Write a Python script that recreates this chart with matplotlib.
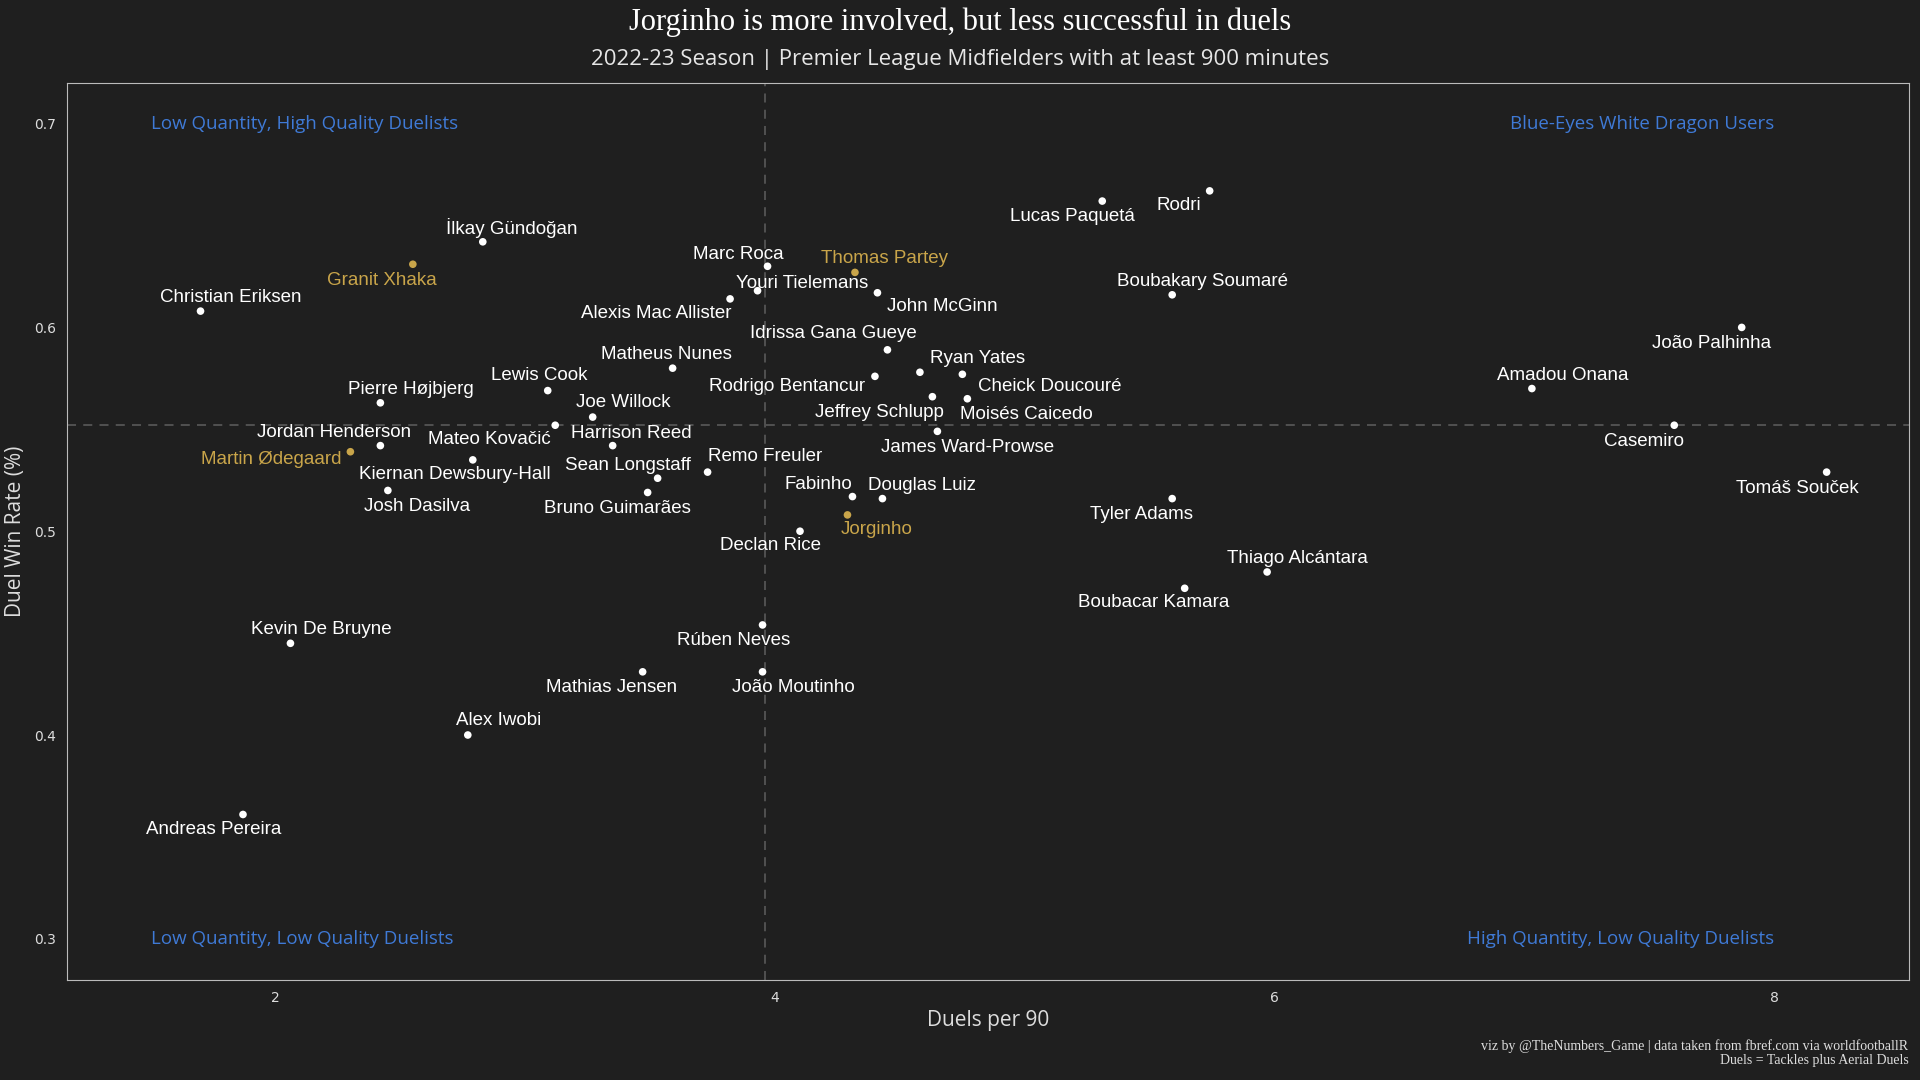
import matplotlib.pyplot as plt
import numpy as np

players = ["Rodri", "Lucas Paquetá", "Boubakary Soumaré", "João Palhinha", "Amadou Onana",
           "Casemiro", "Tomáš Souček", "Tyler Adams", "Thiago Alcántara", "Boubacar Kamara",
           "İlkay Gündoğan", "Granit Xhaka", "Christian Eriksen", "Marc Roca", "Thomas Partey",
           "Youri Tielemans", "John McGinn", "Alexis Mac Allister", "Idrissa Gana Gueye",
           "Matheus Nunes", "Ryan Yates", "Cheick Doucouré", "Rodrigo Bentancur", "Lewis Cook",
           "Pierre Højbjerg", "Jeffrey Schlupp", "Moisés Caicedo", "Joe Willock", "Mateo Kovačić",
           "James Ward-Prowse", "Harrison Reed", "Jordan Henderson", "Martin Ødegaard",
           "Kiernan Dewsbury-Hall", "Remo Freuler", "Sean Longstaff", "Josh Dasilva",
           "Bruno Guimarães", "Fabinho", "Douglas Luiz", "Jorginho", "Declan Rice",
           "Kevin De Bruyne", "Rúben Neves", "Mathias Jensen", "João Moutinho", "Alex Iwobi",
           "Andreas Pereira"]
duels_p90 = [5.74, 5.31, 5.59, 7.87, 7.03, 7.60, 8.21, 5.59, 5.97, 5.64,
             2.83, 2.55, 1.70, 3.97, 4.32, 3.93, 4.41, 3.82, 4.45, 3.59,
             4.58, 4.75, 4.40, 3.09, 2.42, 4.63, 4.77, 3.27, 3.12, 4.65,
             3.35, 2.42, 2.30, 2.79, 3.73, 3.53, 2.45, 3.49, 4.31, 4.43,
             4.29, 4.10, 2.06, 3.95, 3.47, 3.95, 2.77, 1.87]
win_rate = [0.667, 0.662, 0.616, 0.600, 0.570, 0.552, 0.529, 0.516, 0.480, 0.472,
            0.642, 0.631, 0.608, 0.630, 0.627, 0.618, 0.617, 0.614, 0.589, 0.580,
            0.578, 0.577, 0.576, 0.569, 0.563, 0.566, 0.565, 0.556, 0.552, 0.549,
            0.542, 0.542, 0.539, 0.535, 0.529, 0.526, 0.520, 0.519, 0.517, 0.516,
            0.508, 0.500, 0.445, 0.454, 0.431, 0.431, 0.400, 0.361]
arsenal = {"Granit Xhaka", "Thomas Partey", "Martin Ødegaard", "Jorginho"}

# label offsets in reference pixels (dx right, dy down)
offsets = {
    "Rodri": (-25, 12), "Lucas Paquetá": (-24, 13), "Boubakary Soumaré": (25, -11),
    "João Palhinha": (-25, 13), "Amadou Onana": (25, -11), "Casemiro": (-25, 13),
    "Tomáš Souček": (-24, 13), "Tyler Adams": (-25, 13), "Thiago Alcántara": (25, -11),
    "Boubacar Kamara": (-25, 12), "İlkay Gündoğan": (24, -11), "Granit Xhaka": (-25, 13),
    "Christian Eriksen": (25, -11), "Marc Roca": (-24, -10), "Thomas Partey": (24, -11),
    "Youri Tielemans": (36, -6), "John McGinn": (53, 11), "Alexis Mac Allister": (-60, 12),
    "Idrissa Gana Gueye": (-44, -13), "Matheus Nunes": (-5, -11), "Ryan Yates": (47, -11),
    "Cheick Doucouré": (71, 10), "Rodrigo Bentancur": (-72, 8), "Lewis Cook": (-7, -12),
    "Pierre Højbjerg": (25, -11), "Jeffrey Schlupp": (-43, 13), "Moisés Caicedo": (48, 13),
    "Joe Willock": (25, -12), "Mateo Kovačić": (-54, 12), "James Ward-Prowse": (25, 13),
    "Harrison Reed": (15, -10), "Jordan Henderson": (-38, -11), "Martin Ødegaard": (-65, 6),
    "Kiernan Dewsbury-Hall": (-15, 12), "Remo Freuler": (47, -13), "Sean Longstaff": (-24, -10),
    "Josh Dasilva": (24, 13), "Bruno Guimarães": (-25, 13), "Fabinho": (-28, -10),
    "Douglas Luiz": (32, -11), "Jorginho": (24, 12), "Declan Rice": (-24, 12),
    "Kevin De Bruyne": (25, -11), "Rúben Neves": (-24, 13), "Mathias Jensen": (-25, 13),
    "João Moutinho": (25, 13), "Alex Iwobi": (25, -12), "Andreas Pereira": (-24, 12),
}

BG = "#1f1f1f"
GOLD = "#c9a54a"
BLUE = "#3f7ad6"
SCALE = 1920 / 1568 * 0.72  # ref px -> points

fig = plt.figure(figsize=(19.2, 10.8), dpi=100, facecolor=BG)
ax = fig.add_axes([0.0351, 0.0930, 0.9592, 0.8299], facecolor=BG)

x = np.array(duels_p90)
y = np.array(win_rate)
colors = [GOLD if p in arsenal else "white" for p in players]
ax.scatter(x, y, s=30, c=colors, zorder=3, linewidths=0)

ax.axvline(3.96, color="#555555", ls=(0, (5, 4)), lw=1.3, zorder=1)
ax.axhline(0.552, color="#555555", ls=(0, (5, 4)), lw=1.3, zorder=1)

for p, xi, yi, c in zip(players, x, y, colors):
    dx, dy = offsets[p]
    ax.annotate(p, (xi, yi), xytext=(dx * SCALE, -dy * SCALE), textcoords="offset points",
                ha="center", va="center", color=c, fontsize=13.5, family="Liberation Sans")

ax.set_xlim(1.167, 8.54)
ax.set_ylim(0.280, 0.7198)
ax.set_xticks([2, 4, 6, 8])
ax.set_yticks([0.3, 0.4, 0.5, 0.6, 0.7])
ax.set_yticklabels(["0.3", "0.4", "0.5", "0.6", "0.7"])
ax.tick_params(colors="#dddddd", labelsize=10, length=0, pad=8)
for s in ax.spines.values():
    s.set_color("#bbbbbb")
    s.set_linewidth(0.8)
ax.set_xlabel("Duels per 90", color="#dddddd", fontsize=15, family="Open Sans", labelpad=4)
ax.set_ylabel("Duel Win Rate (%)", color="#dddddd", fontsize=15, family="Open Sans", labelpad=6)

corner = dict(color=BLUE, fontsize=13.5, family="Open Sans", va="center")
ax.text(1.50, 0.7, "Low Quantity, High Quality Duelists", ha="left", **corner)
ax.text(8.0, 0.7, "Blue-Eyes White Dragon Users", ha="right", **corner)
ax.text(1.50, 0.3, "Low Quantity, Low Quality Duelists", ha="left", **corner)
ax.text(8.0, 0.3, "High Quantity, Low Quality Duelists", ha="right", **corner)

fig.text(0.5, 0.979, "Jorginho is more involved, but less successful in duels", ha="center",
         va="center", color="white", fontsize=22, family="Liberation Serif")
fig.text(0.5, 0.945, "2022-23 Season | Premier League Midfielders with at least 900 minutes",
         ha="center", va="center", color="#e6e6e6", fontsize=16, family="Open Sans")
fig.text(0.994, 0.025, "viz by @TheNumbers_Game | data taken from fbref.com via worldfootballR\n"
         "Duels = Tackles plus Aerial Duels", ha="right", va="center", color="#dddddd",
         fontsize=10, family="Liberation Serif", linespacing=1.1)

fig.savefig("out.png", facecolor=BG)
